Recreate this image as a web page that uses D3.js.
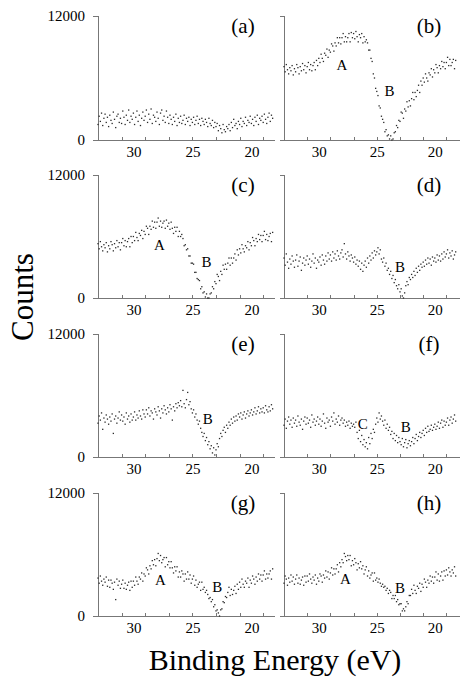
<!DOCTYPE html>
<html>

<head>
	<meta charset="utf-8">
	<title>Counts vs Binding Energy</title>
	<style>
		html,
		body {
			margin: 0;
			padding: 0;
			background: #fff;
		}

		svg text {
			font-family: "Liberation Serif", "DejaVu Serif", "Times New Roman", Times, serif !important;
			fill: #000;
		}

		.axis path,
		.axis line {
			stroke: #777;
			shape-rendering: crispEdges;
		}
	</style>
</head>

<body>
	<svg id='chart' width='460' height='677'></svg>

	<script src="https://cdnjs.cloudflare.com/ajax/libs/d3/7.8.5/d3.min.js"></script>
	<script>
		// binding energy grid, 33.0 -> 18.2 eV in 0.1 eV steps
		var energies = d3.range(330, 181, -1).map(function (d) { return d / 10; });

		var panelNames = ['(a)', '(b)', '(c)', '(d)', '(e)', '(f)', '(g)', '(h)'];
		var xTickLabels = [30, 25, 20];
		var xMinorTicks = [31, 29, 27, 25, 23, 21, 19];
		var yTickLabels = [0, 12000];

		// counts, one value per energy
		var countsA = [
			1500, 2300, 1800, 2600, 1400, 2100, 2500, 1700, 2200, 1300,
			2400, 1900, 1600, 2700, 2000, 1200, 2300, 2500, 1700, 2100,
			1600, 2800, 2200, 1500, 2400, 1900, 2900, 1700, 2300, 2000,
			2600, 1500, 2200, 2800, 1800, 2400, 1400, 2100, 2700, 1900,
			2300, 2900, 1700, 2500, 2000, 3000, 1600, 2400, 2200, 1800,
			2700, 2100, 1500, 2600, 2900, 1900, 2300, 1700, 2800, 2200,
			1600, 2400, 2000, 1500, 2200, 1800, 2500, 1400, 2100, 1700,
			2300, 1600, 1900, 2400, 1500, 2100, 1800, 2200, 1400, 2000,
			1700, 2200, 1500, 1900, 2300, 1600, 2000, 1400, 2100, 1800,
			1500, 2000, 1700, 1300, 2100, 1600, 1400, 1900, 1200, 1700,
			1300, 1600, 900, 1400, 1100, 700, 1500, 1000, 800, 1300,
			1100, 1500, 900, 1700, 1200, 2000, 1400, 1600, 1100, 1800,
			1500, 2100, 1300, 1800, 1600, 2200, 1400, 1900, 1700, 2300,
			1600, 2000, 1400, 2200, 1800, 2400, 1500, 2100, 1900, 2300,
			1700, 2500, 2000, 1600, 2200, 2600, 1800, 2400, 2100
		];
		var countsB = [
			7100, 6600, 7300, 6800, 6400, 7000, 6700, 7200, 6300, 6900,
			6600, 7300, 7000, 6400, 7100, 6700, 7400, 6800, 7200, 6500,
			7100, 7500, 6800, 7300, 6700, 7200, 7500, 6800, 7700, 7200,
			7900, 7500, 8300, 7900, 7600, 8400, 8200, 8800, 8000, 8700,
			8500, 9300, 9100, 8600, 9400, 9100, 9900, 9400, 9900, 9300,
			9900, 10300, 9500, 10000, 9500, 9900, 10300, 9500, 10400, 9900,
			10300, 9800, 10500, 10000, 9500, 10200, 9900, 10300, 9400, 10000,
			9500, 9700, 9400, 8700, 8700, 7900, 7600, 6400, 6000, 5000,
			4700, 4300, 3300, 3100, 2300, 2000, 1700, 800, 1000, 400,
			500, 100, 400, 0, 100, 700, 800, 1400, 1200, 1900,
			1800, 2700, 2600, 2100, 3000, 2800, 3700, 3200, 3800, 3300,
			4000, 4600, 3900, 4600, 4200, 4800, 5300, 4600, 5700, 5300,
			6000, 5600, 6400, 6000, 5700, 6500, 6300, 6900, 6100, 6800,
			6500, 7300, 7000, 6500, 7200, 6900, 7600, 7100, 7500, 6900,
			7500, 8000, 7200, 7800, 7200, 7500, 7800, 6900, 7700
		];
		var countsC = [
			5300, 4800, 5500, 5000, 4600, 5200, 4900, 5400, 4500, 5100,
			4800, 5500, 5200, 4600, 5300, 4900, 5600, 5000, 5400, 4700,
			5400, 5800, 5100, 5600, 5000, 5500, 5800, 5000, 6000, 5400,
			6000, 5600, 6400, 5900, 5600, 6300, 6100, 6600, 5800, 6500,
			6200, 7000, 6800, 6200, 7000, 6700, 7500, 6900, 7400, 6800,
			7400, 7800, 7000, 7500, 6900, 7300, 7500, 6800, 7600, 7000,
			7300, 6700, 7400, 6800, 6300, 6900, 6500, 6900, 6000, 6500,
			6000, 6200, 5800, 5100, 5200, 4700, 4800, 4100, 4100, 3400,
			3400, 3300, 2500, 2500, 1900, 1800, 1700, 900, 1100, 500,
			600, 100, 400, 0, 0, 400, 500, 1100, 900, 1600,
			1400, 2300, 2100, 1700, 2600, 2300, 3200, 2800, 3300, 2800,
			3400, 3900, 3200, 3900, 3400, 3900, 4300, 3700, 4700, 4200,
			4800, 4400, 5200, 4800, 4500, 5100, 4900, 5500, 4700, 5400,
			5100, 5900, 5600, 5100, 5800, 5500, 6200, 5700, 6100, 5500,
			6100, 6500, 5700, 6200, 5600, 6000, 6300, 5500, 6400
		];
		var countsD = [
			3900, 3200, 4300, 3500, 2900, 3800, 3300, 4100, 3600, 3000,
			3700, 4200, 3100, 3600, 4000, 2700, 3400, 3900, 3200, 3700,
			4100, 3300, 3800, 3000, 3600, 4300, 3400, 3900, 2900, 3700,
			3500, 4000, 3200, 4200, 3700, 3300, 4100, 3600, 4400, 3800,
			4200, 3600, 4500, 3900, 4300, 3700, 4600, 4100, 3800, 4400,
			4700, 4000, 5300, 4300, 3800, 4500, 4100, 3600, 4200, 3900,
			3500, 4000, 3300, 3700, 3100, 3600, 2800, 3400, 2600, 3200,
			3600, 3000, 3900, 3400, 4100, 3700, 4400, 3900, 4600, 4200,
			4500, 4900, 4300, 4700, 3800, 3500, 3900, 3100, 3400, 2700,
			2900, 2300, 2600, 1900, 2200, 1500, 1800, 1200, 900, 1300,
			600, 900, 200, 0, 500, 1200, 1600, 1300, 2000, 1800,
			2300, 2000, 2600, 2200, 2900, 2500, 3100, 2700, 3300, 3000,
			3500, 3100, 3700, 3300, 3900, 3400, 3800, 3200, 4000, 3600,
			3900, 3500, 4200, 3700, 4100, 3600, 4300, 3800, 4500, 4000,
			4300, 4700, 3900, 4400, 4100, 4600, 3800, 4200, 4500
		];
		var countsE = [
			3300, 4000, 3600, 4300, 2700, 3800, 3400, 4100, 3700, 3200,
			3900, 3500, 4200, 2300, 3700, 4000, 3300, 3800, 4400, 3600,
			4100, 3500, 3900, 3200, 4300, 3700, 4000, 3400, 4200, 3600,
			3900, 4400, 3600, 4100, 3800, 4500, 4000, 3700, 4600, 4200,
			3900, 4600, 4200, 4800, 4000, 4500, 4300, 3700, 4700, 4400,
			4100, 4900, 4500, 3800, 4700, 4300, 5000, 4600, 4200, 4800,
			4400, 5100, 4700, 3600, 4900, 4500, 5200, 4800, 5300, 5000,
			5500, 4900, 6500, 5200, 4800, 5600, 6300, 5100, 5400, 4700,
			4300, 4600, 3900, 4200, 3600, 3200, 3500, 2800, 2400, 2000,
			2300, 1600, 1900, 1200, 1500, 800, 1100, 400, 900, 200,
			700, 1300, 1000, 1800, 2300, 2000, 2600, 2900, 2400, 3100,
			2800, 3400, 3100, 3700, 3300, 3900, 3500, 4000, 3600, 4200,
			3900, 4300, 3700, 4100, 4400, 3800, 4200, 4500, 4000, 4300,
			4600, 4100, 4400, 4800, 4200, 4500, 4900, 4300, 4700, 4400,
			4800, 4300, 5000, 4600, 4400, 4900, 4500, 5100, 4700
		];
		var countsF = [
			3100, 3700, 2800, 3500, 3900, 3200, 3600, 2900, 3800, 3300,
			3600, 3000, 4000, 3400, 3100, 3700, 2700, 3500, 3900, 3200,
			3800, 3300, 3600, 2900, 4100, 3400, 3700, 3100, 3500, 3900,
			3200, 3700, 3000, 3500, 4200, 3300, 2800, 3800, 3400, 3600,
			3000, 3900, 3500, 4300, 3200, 3700, 3400, 4000, 3100, 3600,
			3800, 3300, 3600, 3000, 3400, 3100, 3500, 2800, 3300, 3000,
			3200, 2900, 3400, 2400, 1800, 2600, 1500, 2100, 1200, 1700,
			1000, 1400, 800, 1900, 1300, 2300, 1800, 2700, 2400, 3200,
			3800, 3400, 4300, 3700, 4000, 3500, 3100, 3600, 2800, 3200,
			2600, 2900, 2200, 2500, 1800, 2300, 1600, 2100, 1400, 1900,
			1500, 1200, 1800, 1000, 1400, 1700, 900, 1300, 1600, 1100,
			1500, 1900, 1300, 1800, 2200, 1600, 2000, 2400, 1900, 2300,
			2600, 2100, 2800, 2400, 3000, 2500, 2700, 3100, 2600, 2900,
			3200, 2700, 3000, 3400, 2800, 3300, 3600, 2900, 3500, 3100,
			3400, 3800, 3100, 3600, 3900, 3300, 3700, 4100, 3500
		];
		var countsG = [
			3700, 3200, 3900, 3400, 3000, 3600, 3300, 3800, 2900, 3500,
			2800, 3500, 3200, 2600, 3300, 1600, 3600, 3000, 3400, 2700,
			3100, 3500, 2700, 3200, 2600, 3000, 3300, 2500, 3400, 2800,
			3400, 3000, 3800, 3400, 3100, 3800, 3600, 4200, 3400, 4100,
			3900, 4700, 4500, 4100, 4900, 4600, 5400, 5000, 5500, 4900,
			5600, 6100, 5400, 5900, 5200, 5500, 5700, 4800, 5700, 5000,
			5300, 4700, 5300, 4700, 4200, 4800, 4400, 4800, 3800, 4300,
			3800, 4400, 4100, 3400, 4100, 3600, 4300, 3600, 4000, 3200,
			3600, 3900, 3000, 3500, 2800, 3100, 3300, 2500, 3300, 2600,
			2800, 2300, 2500, 2100, 1700, 1800, 1400, 1600, 900, 1100,
			500, 600, 300, 0, 600, 700, 1400, 1300, 1900, 1800,
			2300, 2800, 2000, 2600, 2100, 2500, 2900, 2200, 3100, 2600,
			3300, 2800, 3600, 3100, 2800, 3400, 3200, 3700, 2800, 3500,
			3200, 3900, 3600, 3100, 3800, 3400, 4100, 3600, 4000, 3400,
			4000, 4400, 3600, 4100, 3700, 4100, 4400, 3600, 4600
		];
		var countsH = [
			3200, 3900, 3600, 3000, 3700, 3300, 4000, 3400, 3800, 3100,
			3600, 4000, 3200, 3700, 3100, 3500, 3800, 3000, 3900, 3300,
			3900, 3400, 4100, 3600, 3200, 3800, 3500, 4000, 3100, 3700,
			3400, 4100, 3900, 3300, 4000, 3700, 4400, 3800, 4300, 3600,
			4200, 4700, 4000, 4600, 4100, 4600, 5000, 4300, 5200, 4800,
			5500, 5200, 6100, 5800, 5400, 5900, 5500, 5900, 4900, 5400,
			5000, 5600, 5200, 4500, 5100, 4700, 5300, 4600, 4900, 4100,
			4500, 4800, 3900, 4400, 3700, 4000, 4200, 3400, 4200, 3500,
			3700, 3300, 3600, 3200, 2900, 3100, 2800, 2900, 2500, 2700,
			2200, 2500, 2300, 1700, 2000, 1700, 2000, 1400, 1600, 1100,
			1200, 1200, 500, 700, 500, 900, 1400, 1200, 2000, 2000,
			2600, 2200, 3000, 2500, 2200, 2900, 2700, 3200, 2400, 3100,
			2800, 3600, 3300, 2800, 3500, 3200, 3900, 3400, 3800, 3200,
			3800, 4300, 3500, 4100, 3400, 3900, 4300, 3500, 4400, 3900,
			4500, 4000, 4700, 4300, 3900, 4500, 4200, 4800, 3900
		];

		// peak labels per panel: [text, energy, counts]
		var peakLabels = [
			[],
			[['A', 28.0, 7300], ['B', 23.9, 4700]],
			[['A', 27.8, 5200], ['B', 23.8, 3500]],
			[['B', 23.0, 3000]],
			[['B', 23.7, 3700]],
			[['C', 26.2, 3200], ['B', 22.5, 2900]],
			[['A', 27.7, 3500], ['B', 22.9, 2800]],
			[['A', 27.7, 3600], ['B', 23.0, 2700]]
		];

		var allCounts = [countsA, countsB, countsC, countsD, countsE, countsF, countsG, countsH];
		var serif = 'Liberation Serif, DejaVu Serif, Times New Roman, serif';

		var svg = d3.select('#chart');

		// panel grid
		var cols = [[98, 275], [284, 458]];
		var rows = [[16, 140], [175, 298], [334, 457], [493, 616]];

		panelNames.forEach(function (name, i) {
			var col = i % 2;
			var row = Math.floor(i / 2);
			var x = d3.scaleLinear().domain([33, 18]).range(cols[col]);
			var y = d3.scaleLinear().domain([0, 12000]).range([rows[row][1], rows[row][0]]);
			var g = svg.append('g').attr('class', 'panel');

			// y axis
			var yAxis = d3.axisLeft(y).tickSizeOuter(0);
			if (col === 0) {
				yAxis.tickValues(yTickLabels).tickSize(5).tickPadding(8).tickFormat(d3.format('d'));
			} else {
				yAxis.tickValues([12000]).tickSize(4).tickFormat('');
			}
			var ya = g.append('g').attr('class', 'axis')
				.attr('transform', 'translate(' + cols[col][0] + ',0)')
				.call(yAxis);
			ya.attr('font-family', serif).selectAll('text').attr('font-size', 15);

			// x axis line, minor ticks and labels
			var xBase = rows[row][1];
			g.append('line').attr('class', 'axis')
				.attr('x1', col === 0 ? cols[col][0] - 4 : cols[col][0])
				.attr('x2', col === 0 ? cols[col][1] : 460)
				.attr('y1', xBase).attr('y2', xBase)
				.attr('stroke', '#777').attr('shape-rendering', 'crispEdges');
			g.append('g').attr('class', 'axis')
				.attr('transform', 'translate(0,' + xBase + ')')
				.call(d3.axisBottom(x).tickValues(xMinorTicks).tickSize(-3).tickFormat(''))
				.call(function (a) { a.select('.domain').remove(); });
			var xa = g.append('g').attr('class', 'axis')
				.attr('transform', 'translate(0,' + xBase + ')')
				.call(d3.axisBottom(x).tickValues(xTickLabels).tickSize(0).tickPadding(6))
				.call(function (a) { a.select('.domain').remove(); });
			xa.attr('font-family', serif).selectAll('text').attr('font-size', 15);

			// data points
			g.append('g').selectAll('rect')
				.data(allCounts[i])
				.join('rect')
				.attr('x', function (d, j) { return x(energies[j]) - 0.65; })
				.attr('y', function (d) { return y(d) - 0.65; })
				.attr('width', 1.3)
				.attr('height', 1.3)
				.attr('fill', '#2a2a2a');

			// panel tag
			g.append('text')
				.attr('x', col === 0 ? 243 : 429)
				.attr('y', rows[row][0] + 17)
				.attr('text-anchor', 'middle')
				.attr('font-family', serif)
				.attr('font-size', 21)
				.text(name);

			// peak letters
			g.selectAll('text.peak')
				.data(peakLabels[i])
				.join('text')
				.attr('class', 'peak')
				.attr('x', function (d) { return x(d[1]); })
				.attr('y', function (d) { return y(d[2]) + 5; })
				.attr('text-anchor', 'middle')
				.attr('font-family', serif)
				.attr('font-size', 15)
				.text(function (d) { return d[0]; });
		});

		// axis titles
		svg.append('text')
			.attr('transform', 'translate(33,297) rotate(-90)')
			.attr('text-anchor', 'middle')
			.attr('font-family', serif)
			.attr('font-size', 31)
			.text('Counts');

		svg.append('text')
			.attr('x', 275)
			.attr('y', 670)
			.attr('text-anchor', 'middle')
			.attr('font-family', serif)
			.attr('font-size', 30)
			.text('Binding Energy (eV)');
	</script>
</body>

</html>
